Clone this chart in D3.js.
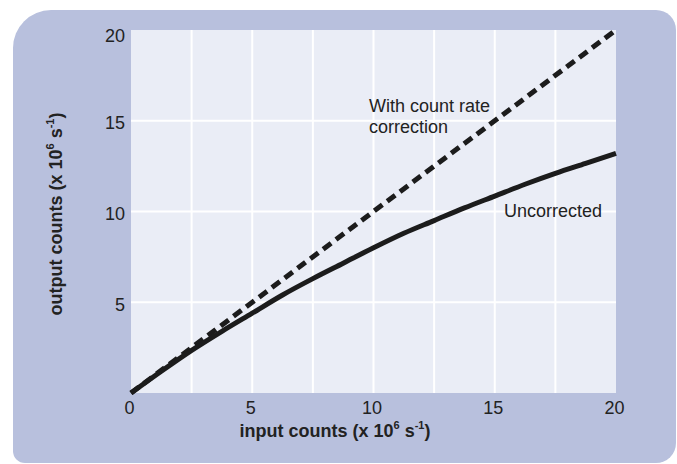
<!DOCTYPE html>
<html>
<head>
<meta charset="utf-8">
<title>Count rate correction</title>
<script src="https://cdn.jsdelivr.net/npm/d3@7"></script>
<style>
    body { margin: 0; background: #ffffff; }
    text { font-family: "Liberation Sans", Arial, sans-serif; fill: #222222; }
</style>
</head>
<body>
<div id="main"></div>
<script>
"use strict";

// values (units: 10^6 counts per second)
const xTicks = [0, 5, 10, 15, 20];
const yTicks = [5, 10, 15, 20];
const xGrid = [2.5, 5, 7.5, 10, 12.5, 15, 17.5];
const yGrid = [5, 10, 15];

const inputCounts = [0, 1.25, 2.5, 3.75, 5, 6.25, 7.5, 8.75, 10, 11.25, 12.5, 13.75, 15, 16.25, 17.5, 18.75, 20];
const uncorrected = [0, 1.2, 2.35, 3.4, 4.4, 5.4, 6.3, 7.15, 8.0, 8.8, 9.5, 10.2, 10.85, 11.5, 12.1, 12.65, 13.2];
const correctedX = [0, 20];
const corrected = [0, 20];

const params = {
    width: 677,
    height: 464,
    left: 131,
    right: 616,
    top: 30,
    bottom: 393
};

// rounded rectangle with a different radius on each corner
function panelPath(x0, y0, x1, y1, rTL, rTR, rBR, rBL) {
    return `M${x0 + rTL},${y0}` +
        `H${x1 - rTR}A${rTR},${rTR} 0 0 1 ${x1},${y0 + rTR}` +
        `V${y1 - rBR}A${rBR},${rBR} 0 0 1 ${x1 - rBR},${y1}` +
        `H${x0 + rBL}A${rBL},${rBL} 0 0 1 ${x0},${y1 - rBL}` +
        `V${y0 + rTL}A${rTL},${rTL} 0 0 1 ${x0 + rTL},${y0}Z`;
}

function draw() {
    const svg = d3.select("#main").append("svg")
        .attr("width", params.width)
        .attr("height", params.height);

    const x = d3.scaleLinear().domain([0, 20]).range([params.left, params.right]);
    const y = d3.scaleLinear().domain([0, 20]).range([params.bottom, params.top]);

    // blue frame behind everything
    svg.append("path")
        .attr("d", panelPath(13, 10, 676, 463, 38, 20, 20, 12))
        .attr("fill", "#b8c0dd");

    // plot area
    svg.append("rect")
        .attr("x", params.left)
        .attr("y", params.top)
        .attr("width", params.right - params.left)
        .attr("height", params.bottom - params.top)
        .attr("fill", "#eaedf6");

    // white grid
    svg.append("g").selectAll("line").data(xGrid).join("line")
        .attr("x1", d => x(d)).attr("x2", d => x(d))
        .attr("y1", params.top).attr("y2", params.bottom)
        .attr("stroke", "#ffffff").attr("stroke-width", 2);

    svg.append("g").selectAll("line").data(yGrid).join("line")
        .attr("x1", params.left).attr("x2", params.right)
        .attr("y1", d => y(d)).attr("y2", d => y(d))
        .attr("stroke", "#ffffff").attr("stroke-width", 2);

    // axes: labels only, no domain line or tick marks
    const xAxis = d3.axisBottom(x).tickValues(xTicks).tickSize(0).tickPadding(8);
    const yAxis = d3.axisLeft(y).tickValues(yTicks).tickSize(0).tickPadding(6);

    const gx = svg.append("g")
        .attr("transform", `translate(0, ${params.bottom})`)
        .call(xAxis);
    const gy = svg.append("g")
        .attr("transform", `translate(${params.left}, 0)`)
        .call(yAxis);

    [gx, gy].forEach(g => {
        g.select(".domain").remove();
        g.selectAll("text")
            .attr("fill", "#222222")
            .style("font-family", "'Liberation Sans', Arial, sans-serif")
            .style("font-size", "18px");
    });
    gx.selectAll("text").attr("dx", "-2");
    gy.selectAll("text").attr("dy", "0.45em");
    gy.selectAll("text").filter(d => d === 20).attr("dy", "0.62em");

    // curves
    const line = d3.line().x(d => x(d[0])).y(d => y(d[1]));

    svg.append("path")
        .datum(d3.zip(correctedX, corrected))
        .attr("d", line)
        .attr("fill", "none")
        .attr("stroke", "#1c1c1c")
        .attr("stroke-width", 5)
        .attr("stroke-dasharray", "10,6");

    svg.append("path")
        .datum(d3.zip(inputCounts, uncorrected))
        .attr("d", line.curve(d3.curveMonotoneX))
        .attr("fill", "none")
        .attr("stroke", "#1c1c1c")
        .attr("stroke-width", 5);

    // annotations
    const note = svg.append("text")
        .attr("x", 369)
        .attr("y", 112)
        .style("font-size", "18px");
    note.append("tspan").text("With count rate");
    note.append("tspan").attr("x", 369).attr("y", 133).text("correction");

    svg.append("text")
        .attr("x", 504)
        .attr("y", 217)
        .style("font-size", "18px")
        .text("Uncorrected");

    // axis titles with superscripts
    function title(sel) {
        sel.style("font-size", "18px").style("font-weight", "bold");
        sel.append("tspan").text(" (x 10");
        sel.append("tspan").attr("dy", "-8").style("font-size", "11px").text("6");
        sel.append("tspan").attr("dy", "8").text(" s");
        sel.append("tspan").attr("dy", "-8").style("font-size", "11px").text("-1");
        sel.append("tspan").attr("dy", "8").text(")");
    }

    const xTitle = svg.append("text")
        .attr("x", 335)
        .attr("y", 437)
        .attr("text-anchor", "middle")
        .text("input counts");
    title(xTitle);

    const yTitle = svg.append("text")
        .attr("transform", "translate(62, 214) rotate(-90)")
        .attr("text-anchor", "middle")
        .text("output counts");
    title(yTitle);
}

draw();
</script>
</body>
</html>
